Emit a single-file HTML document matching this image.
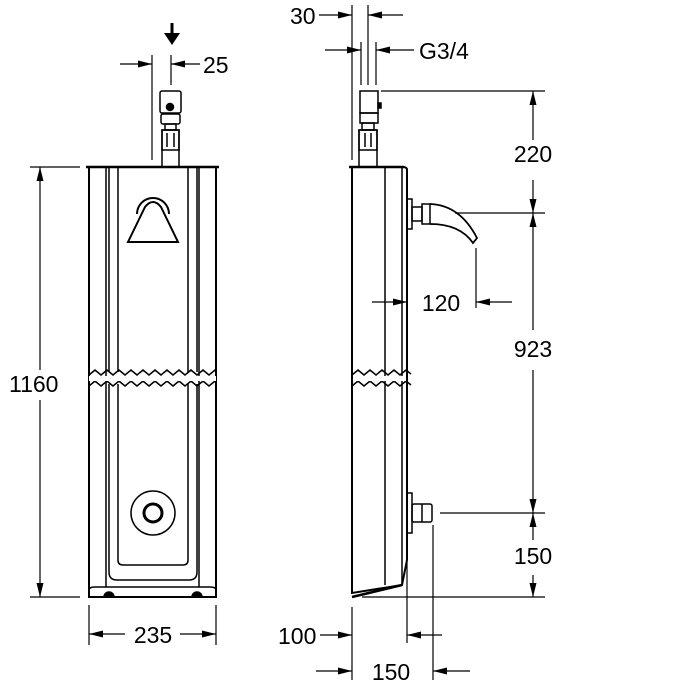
<!DOCTYPE html>
<html><head><style>html,body{margin:0;padding:0;background:#fff}svg{display:block}text{font-family:"Liberation Sans",Arial,sans-serif;font-size:23px;fill:#000}</style></head><body>
<svg width="700" height="700" viewBox="0 0 700 700" xmlns="http://www.w3.org/2000/svg">
<defs>
<marker id="a" viewBox="0 0 14 7" refX="14" refY="3.5" markerWidth="14" markerHeight="7" orient="auto" markerUnits="userSpaceOnUse"><path d="M0,0L14,3.5L0,7z" fill="#000"/></marker>
</defs>
<g fill="none" stroke="#000" stroke-width="1.5">
<path d="M89,167 L89,597 L216,597 L216,167 Z" stroke-width="2"/>
<line x1="86" y1="167" x2="219" y2="167" stroke-width="2.5"/>
<line x1="106" y1="167" x2="106" y2="587"/>
<line x1="109" y1="167" x2="109" y2="372"/>
<line x1="118" y1="167" x2="118" y2="372"/>
<line x1="188" y1="167" x2="188" y2="372"/>
<line x1="197" y1="167" x2="197" y2="372"/>
<line x1="199" y1="167" x2="199" y2="587"/>
<path d="M109,384 L109,572 Q109,580 117,580 L189,580 Q197,580 197,572 L197,384"/>
<path d="M118,384 L118,560 Q118,565 123,565 L183,565 Q188,565 188,560 L188,384"/>
<path d="M89,590 Q89,587 95,587 L210,587 Q216,587 216,590"/>
<path d="M89,375 l6,-5 6,5 6,-5 6,5 6,-5 6,5 6,-5 6,5 6,-5 6,5 6,-5 6,5 6,-5 6,5 6,-5 6,5 6,-5 6,5 6,-5 6,5 6,-5 1,1"/>
<path d="M89,386 l6,-5 6,5 6,-5 6,5 6,-5 6,5 6,-5 6,5 6,-5 6,5 6,-5 6,5 6,-5 6,5 6,-5 6,5 6,-5 6,5 6,-5 6,5 6,-5 1,1"/>
<rect x="89" y="376" width="127" height="5" fill="#fff" stroke="none"/>
<path d="M137,214 A16,16 0 1 1 169,214" stroke-width="2"/>
<path d="M128,242 L145,207 Q153,197 161,207 L178,242 Z" stroke-width="2"/>
<circle cx="153" cy="513" r="22"/>
<circle cx="153" cy="513" r="9" stroke-width="3"/>
<path d="M104,597 a5,5 0 0 1 10,0z" fill="#000"/>
<path d="M192,597 a5,5 0 0 1 10,0z" fill="#000"/>
<rect x="162" y="130" width="17" height="37"/>
<rect x="162" y="130" width="17" height="20"/>
<line x1="167" y1="133" x2="167" y2="147"/><line x1="174" y1="133" x2="174" y2="147"/>
<rect x="161" y="114" width="19" height="10" rx="2"/>
<rect x="160" y="91" width="21" height="22" rx="2"/>
<circle cx="170" cy="107" r="3.5" fill="#000"/>
<rect x="165" y="124" width="11" height="6"/>
<path d="M352,167 L352,593 L402,585 L407,560 L407,170 Q407,167 403,167 Z" stroke-width="2"/>
<line x1="349" y1="167" x2="404" y2="167" stroke-width="2.5"/>
<line x1="385" y1="167" x2="385" y2="585"/>
<line x1="402" y1="167" x2="402" y2="585"/>
<path d="M352,597 L402,585" stroke-width="2.5"/>
<path d="M352,375 l6,-5 6,5 6,-5 6,5 6,-5 6,5 6,-5 6,5 6,-5 5,4"/>
<path d="M352,386 l6,-5 6,5 6,-5 6,5 6,-5 6,5 6,-5 6,5 6,-5 5,4"/>
<rect x="353" y="376" width="53" height="5" fill="#fff" stroke="none"/>
<rect x="360" y="91" width="18" height="22"/>
<rect x="360" y="113" width="18" height="10"/>
<rect x="359" y="130" width="18" height="37"/>
<rect x="359" y="130" width="18" height="20"/>
<line x1="365" y1="133" x2="365" y2="147"/><line x1="371" y1="133" x2="371" y2="147"/>
<rect x="362" y="123" width="12" height="7"/>
<rect x="378" y="103" width="3" height="5" fill="#000"/>
<rect x="407" y="199" width="5" height="30"/>
<rect x="412" y="207" width="10" height="14"/>
<rect x="422" y="204" width="8" height="20"/>
<path d="M430,204 Q460,205 477,238 L473,243 Q460,224 430,224" stroke-width="1.8"/>
<rect x="407" y="493" width="5" height="40"/>
<rect x="412" y="504" width="20" height="18" rx="2"/>
<line x1="422" y1="504" x2="422" y2="522"/>
<g stroke-width="1.2">
<line x1="30" y1="167" x2="80" y2="167"/><line x1="30" y1="597" x2="80" y2="597"/>
<line x1="40" y1="370" x2="40" y2="167" marker-end="url(#a)"/>
<line x1="40" y1="400" x2="40" y2="597" marker-end="url(#a)"/>
<line x1="89" y1="605" x2="89" y2="645"/><line x1="216" y1="605" x2="216" y2="645"/>
<line x1="125" y1="634" x2="89" y2="634" marker-end="url(#a)"/>
<line x1="180" y1="634" x2="216" y2="634" marker-end="url(#a)"/>
<line x1="152" y1="55" x2="152" y2="160"/><line x1="171" y1="55" x2="171" y2="85"/>
<line x1="120" y1="64" x2="152" y2="64" marker-end="url(#a)"/>
<line x1="200" y1="64" x2="171" y2="64" marker-end="url(#a)"/>
<line x1="352" y1="5" x2="352" y2="160"/><line x1="368" y1="5" x2="368" y2="85"/>
<line x1="319" y1="15" x2="352" y2="15" marker-end="url(#a)"/>
<line x1="403" y1="15" x2="368" y2="15" marker-end="url(#a)"/>
<line x1="361" y1="42" x2="361" y2="85"/><line x1="376" y1="42" x2="376" y2="85"/>
<line x1="325" y1="50" x2="361" y2="50" marker-end="url(#a)"/>
<line x1="414" y1="50" x2="376" y2="50" marker-end="url(#a)"/>
<line x1="381" y1="91" x2="545" y2="91"/>
<line x1="455" y1="213" x2="545" y2="213"/>
<line x1="440" y1="513" x2="545" y2="513"/>
<line x1="362" y1="597" x2="545" y2="597"/>
<line x1="533" y1="140" x2="533" y2="91" marker-end="url(#a)"/>
<line x1="533" y1="180" x2="533" y2="213" marker-end="url(#a)"/>
<line x1="533" y1="330" x2="533" y2="213" marker-end="url(#a)"/>
<line x1="533" y1="370" x2="533" y2="513" marker-end="url(#a)"/>
<line x1="533" y1="540" x2="533" y2="513" marker-end="url(#a)"/>
<line x1="533" y1="575" x2="533" y2="597" marker-end="url(#a)"/>
<line x1="476" y1="248" x2="476" y2="308"/>
<line x1="372" y1="302" x2="407" y2="302" marker-end="url(#a)"/>
<line x1="512" y1="302" x2="476" y2="302" marker-end="url(#a)"/>
<line x1="352" y1="607" x2="352" y2="680"/>
<line x1="407" y1="560" x2="407" y2="643"/>
<line x1="433" y1="525" x2="433" y2="680"/>
<line x1="320" y1="635" x2="352" y2="635" marker-end="url(#a)"/>
<line x1="442" y1="635" x2="407" y2="635" marker-end="url(#a)"/>
<line x1="316" y1="671" x2="352" y2="671" marker-end="url(#a)"/>
<line x1="470" y1="671" x2="433" y2="671" marker-end="url(#a)"/>
</g>
</g>
<line x1="172" y1="23" x2="172" y2="35" stroke="#000" stroke-width="3"/>
<path d="M164,33 L180,33 L172,45 Z" fill="#000"/>
<text x="9" y="392">1160</text>
<text x="153" y="643" text-anchor="middle">235</text>
<text x="203" y="73">25</text>
<text x="290" y="24">30</text>
<text x="419" y="59">G3/4</text>
<text x="533" y="162" text-anchor="middle">220</text>
<text x="533" y="357" text-anchor="middle">923</text>
<text x="533" y="564" text-anchor="middle">150</text>
<text x="441" y="311" text-anchor="middle">120</text>
<text x="278" y="644">100</text>
<text x="391" y="680" text-anchor="middle">150</text>
</svg>
</body></html>
